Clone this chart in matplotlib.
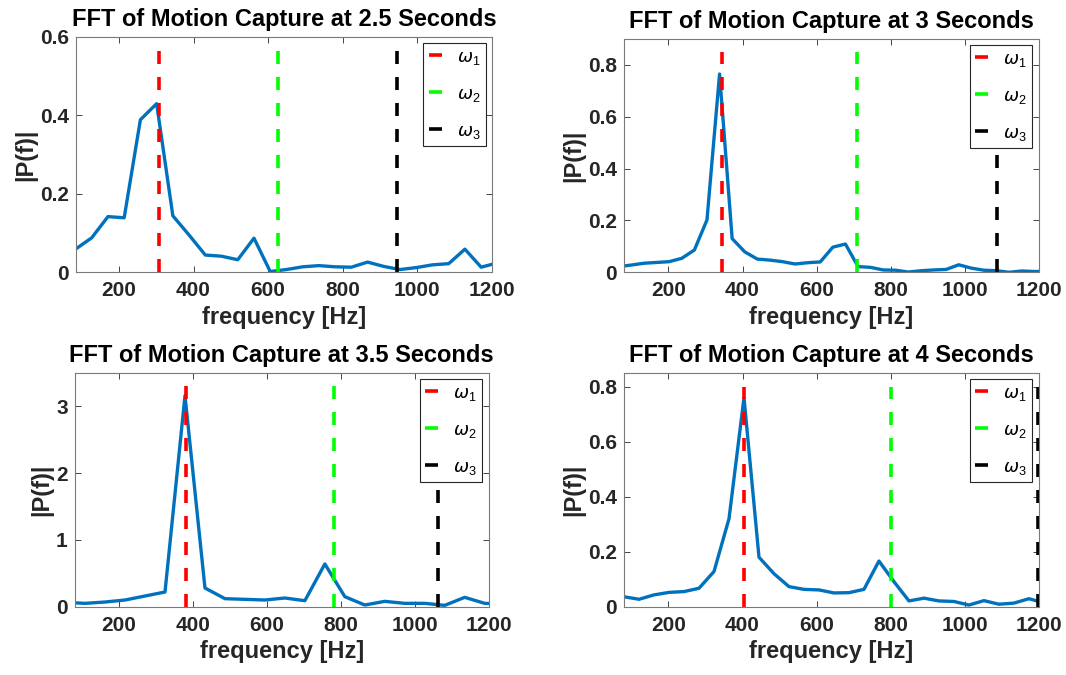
import matplotlib
matplotlib.use('Agg')
import matplotlib.pyplot as plt

plt.rcParams['font.family'] = ['Liberation Sans', 'DejaVu Sans']
plt.rcParams['mathtext.fontset'] = 'custom'
plt.rcParams['mathtext.it'] = 'DejaVu Sans:italic'
plt.rcParams['mathtext.rm'] = 'Liberation Sans'

# Values
titles = ['FFT of Motion Capture at 2.5 Seconds', 'FFT of Motion Capture at 3 Seconds',
          'FFT of Motion Capture at 3.5 Seconds', 'FFT of Motion Capture at 4 Seconds']

freq_25 = [40, 83.5, 127, 170.5, 214, 257.5, 301, 344.5, 388, 431.5, 475, 518.5, 562, 605.5,
           649, 692.5, 736, 779.5, 823, 866.5, 910, 953.5, 997, 1040.5, 1084, 1127.5, 1171, 1214.5]
mag_25 = [0.04, 0.059, 0.088, 0.142, 0.139, 0.389, 0.430, 0.144, 0.095, 0.044, 0.041, 0.032, 0.087, 0.002,
          0.007, 0.014, 0.017, 0.014, 0.013, 0.026, 0.015, 0.007, 0.012, 0.019, 0.022, 0.059, 0.013, 0.024]

freq_3 = [66, 100, 134, 168, 202, 236, 270, 304, 338, 372, 406, 440, 474, 508, 542, 576, 610, 644,
          678, 712, 746, 780, 814, 848, 882, 916, 950, 984, 1018, 1052, 1086, 1120, 1154, 1188, 1222]
mag_3 = [0.022, 0.028, 0.035, 0.038, 0.041, 0.054, 0.086, 0.202, 0.765, 0.130, 0.079, 0.051, 0.047, 0.041,
         0.032, 0.037, 0.040, 0.097, 0.109, 0.022, 0.019, 0.009, 0.008, 0.001, 0.006, 0.009, 0.011, 0.029,
         0.016, 0.008, 0.006, 0.000, 0.005, 0.003, 0.004]

freq_35 = [55, 109, 163, 217, 271, 325, 379, 433, 487, 541, 595, 649, 703, 757, 811, 865, 919, 973,
           1027, 1081, 1135, 1189, 1243]
mag_35 = [0.065, 0.05, 0.07, 0.10, 0.16, 0.22, 3.16, 0.28, 0.12, 0.11, 0.10, 0.13, 0.09, 0.64, 0.15,
          0.025, 0.08, 0.05, 0.05, 0.02, 0.14, 0.05, 0.04]

freq_4 = [39.5, 80, 120.5, 161, 201.5, 242, 282.5, 323, 363.5, 404, 444.5, 485, 525.5, 566, 606.5, 647,
          687.5, 728, 768.5, 809, 849.5, 890, 930.5, 971, 1011.5, 1052, 1092.5, 1133, 1173.5, 1214]
mag_4 = [0.04, 0.036, 0.027, 0.043, 0.052, 0.055, 0.067, 0.128, 0.32, 0.76, 0.18, 0.12, 0.073, 0.063,
         0.061, 0.050, 0.051, 0.063, 0.166, 0.091, 0.021, 0.031, 0.021, 0.019, 0.006, 0.022, 0.009,
         0.013, 0.029, 0.014]

omegas = [[307, 626, 945], [345, 710, 1088], [381, 781, 1062], [404, 800, 1197]]
omega_tops = [0.65, 0.85, 3.3, 0.8]
y_max = [0.6, 0.9, 3.5, 0.85]
y_ticks = [[0, 0.2, 0.4, 0.6], [0, 0.2, 0.4, 0.6, 0.8], [0, 1, 2, 3], [0, 0.2, 0.4, 0.6, 0.8]]
x_min = [84, 80, 81, 80]
x_ticks = [200, 400, 600, 800, 1000, 1200]

freqs = [freq_25, freq_3, freq_35, freq_4]
mags = [mag_25, mag_3, mag_35, mag_4]

# axes boxes in figure fractions [left, bottom, width, height]
boxes = [[0.0710, 0.5966, 0.3905, 0.3486],
         [0.5854, 0.5966, 0.3890, 0.3456],
         [0.0701, 0.1012, 0.3884, 0.3462],
         [0.5854, 0.1012, 0.3890, 0.3462]]

omega_colors = ['#ff0000', '#00ff00', '#000000']
omega_labels = [r'$\omega_1$', r'$\omega_2$', r'$\omega_3$']
txt = '#262626'

fig = plt.figure(figsize=(10.66, 6.75), dpi=100)

for i in range(4):
    ax = fig.add_axes(boxes[i])
    ax.plot(freqs[i], mags[i], color='#0072bd', lw=2.4)
    for w, c, lab in zip(omegas[i], omega_colors, omega_labels):
        ax.plot([w, w], [0, omega_tops[i]], color=c, lw=2.6, dashes=(3.6, 3.6), label=lab)
    ax.set_xlim(x_min[i], 1200)
    ax.set_ylim(0, y_max[i])
    ax.set_xticks(x_ticks)
    ax.set_yticks(y_ticks[i])
    ax.set_yticklabels([('%g' % v) for v in y_ticks[i]])
    ax.tick_params(direction='in', top=True, right=True, length=4, width=0.6,
                   labelsize=15, colors=txt)
    ax.tick_params(axis='x', pad=6.5)
    ax.tick_params(axis='y', pad=5)
    for lbl in ax.get_xticklabels() + ax.get_yticklabels():
        lbl.set_fontweight('bold')
    for s in ax.spines.values():
        s.set_color('#7a7a7a')
        s.set_linewidth(0.8)
    ax.set_title(titles[i], fontsize=17, fontweight='bold', color='black', pad=8)
    ax.set_xlabel('frequency [Hz]', fontsize=17, fontweight='bold', color=txt, labelpad=4)
    ax.set_ylabel('|P(f)|', fontsize=17, fontweight='bold', color=txt, labelpad=2)
    leg = ax.legend(loc='upper right', fontsize=13, fancybox=False, framealpha=1,
                    edgecolor='#262626', handlelength=0.75, handletextpad=0.8,
                    labelspacing=1.05, borderaxespad=0.35, borderpad=0.3)
    leg.get_frame().set_linewidth(0.8)

fig.savefig('out.png', dpi=100)
